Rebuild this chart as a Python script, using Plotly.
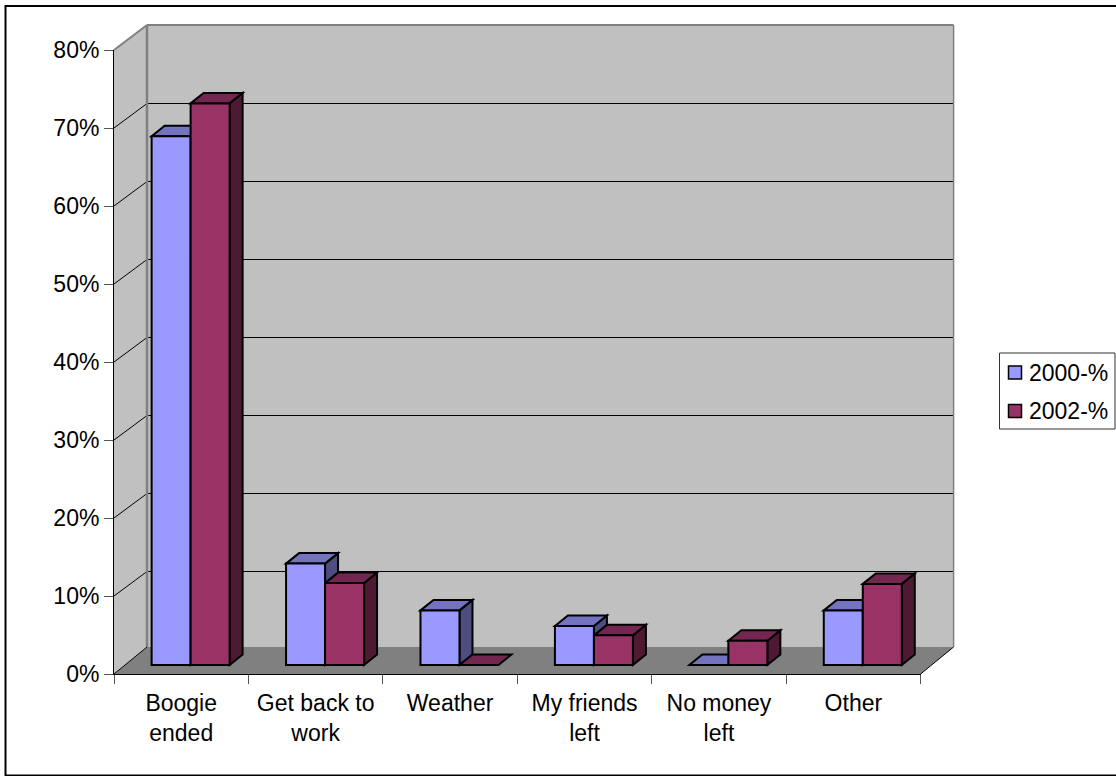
import plotly.graph_objects as go

categories = ["Boogie<br>ended", "Get back to<br>work", "Weather", "My friends<br>left", "No money<br>left", "Other"]
values_2000 = [67.8, 13, 7, 5, 0, 7]
values_2002 = [72, 10.5, 0, 3.8, 3.1, 10.4]
series_names = ["2000-%", "2002-%"]
y_ticks = [0, 10, 20, 30, 40, 50, 60, 70, 80]

W, H = 1116, 776
LEFT, RIGHT, TOP, BOTTOM = 114, 920.6, 50, 674
CAT_PX = (RIGHT - LEFT) / len(categories)
VAL_PX = (BOTTOM - TOP) / 80
WALL_DX, WALL_DY, FLOOR_DY = 33, 25, 27
BAR_DX, BAR_DY = 13, 10.5
BAR_W = 39 / CAT_PX
BAR_BASE = 9 / VAL_PX
OFFSETS = [-29.6 / CAT_PX, 9.4 / CAT_PX]

FILL = ["#9999FF", "#993366"]
TOP_FILL = ["#7373BF", "#732650"]
SIDE_FILL = ["#4D4D80", "#4D1933"]
WALL = "#C0C0C0"
FLOOR = "#808080"
EDGE = "#808080"
FONT = "Liberation Sans"
FS = 23


def px(x):
    return x / W


def py(y):
    return 1 - y / H


def poly(pts):
    return "M" + " L".join(f"{a},{b}" for a, b in pts) + " Z"


def paper_shape(pts, fill=None, color="black", width=1):
    return dict(type="path", layer="below", xref="paper", yref="paper",
                path=poly([(px(a), py(b)) for a, b in pts]),
                fillcolor=fill if fill else "rgba(0,0,0,0)",
                line=dict(color=color, width=width))


def paper_line(x0, y0, x1, y1, color="black", width=1):
    return dict(type="line", layer="below", xref="paper", yref="paper",
                x0=px(x0), y0=py(y0), x1=px(x1), y1=py(y1),
                line=dict(color=color, width=width))


shapes = []
BX0, BX1 = LEFT + WALL_DX, RIGHT + WALL_DX
BY0, BY1 = TOP - WALL_DY, BOTTOM - FLOOR_DY

# Walls and floor
shapes.append(paper_shape([(BX0, BY0), (BX1, BY0), (BX1, BY1), (BX0, BY1)], WALL, WALL, 0))
shapes.append(paper_shape([(LEFT, TOP), (BX0, BY0), (BX0, BY1), (LEFT, BOTTOM)], WALL, WALL, 0))
shapes.append(paper_shape([(LEFT, BOTTOM), (BX0, BY1), (BX1, BY1), (RIGHT, BOTTOM)], FLOOR, FLOOR, 0))

# Gridlines run along the side wall and across the back wall
for t in y_ticks[1:-1]:
    yy = BOTTOM - t * VAL_PX
    shapes.append(paper_line(LEFT, yy, BX0, yy - WALL_DY + 0.5))
    shapes.append(paper_line(BX0, yy - WALL_DY + 0.5, BX1, yy - WALL_DY + 0.5))

shapes.append(paper_line(LEFT, TOP, BX0, BY0, EDGE, 2))
shapes.append(paper_line(BX0, BY0, BX1, BY0, EDGE, 2))
shapes.append(paper_line(BX0, BY0, BX0, BY1, EDGE, 2.5))
shapes.append(paper_line(BX1, BY0, BX1, BY1, EDGE, 1.5))
shapes.append(paper_line(LEFT, BOTTOM, BX0, BY1, "black", 1))
shapes.append(paper_line(RIGHT, BOTTOM, BX1, BY1, "black", 1))

# Outer frame
shapes.append(paper_shape([(5.5, 6), (1119, 6), (1119, 775.5), (5.5, 775.5)], None, "black", 2))

# Legend box and swatches
LEG_ROWS = [372.5, 411]
shapes.append(paper_shape([(999.5, 353), (1115, 353), (1115, 429), (999.5, 429)], "white", "#333333", 1))
annotations = []
for s, name in enumerate(series_names):
    rc = LEG_ROWS[s]
    shapes.append(paper_shape([(1008.5, rc - 6.5), (1021.5, rc - 6.5), (1021.5, rc + 6.5), (1008.5, rc + 6.5)],
                              FILL[s], "black", 1.5))
    annotations.append(dict(text=name, xref="paper", yref="paper", x=px(1027), y=py(rc),
                            xanchor="left", yanchor="middle", showarrow=False,
                            font=dict(family=FONT, size=FS, color="black")))

# Depth faces of each bar, behind the front faces
dx = BAR_DX / CAT_PX
dy = BAR_DY / VAL_PX


def bar_shape(pts, fill):
    return dict(type="path", layer="below", xref="x", yref="y", path=poly(pts),
                fillcolor=fill, line=dict(color="black", width=2))


for i in range(len(categories)):
    for s, vals in enumerate([values_2000, values_2002]):
        x0 = i + OFFSETS[s]
        x1 = x0 + BAR_W
        y0 = BAR_BASE
        y1 = BAR_BASE + vals[i]
        if vals[i] > 0:
            shapes.append(bar_shape([(x1, y0), (x1 + dx, y0 + dy), (x1 + dx, y1 + dy), (x1, y1)], SIDE_FILL[s]))
        shapes.append(bar_shape([(x0, y1), (x0 + dx, y1 + dy), (x1 + dx, y1 + dy), (x1, y1)], TOP_FILL[s]))

fig = go.Figure()
for s, vals in enumerate([values_2000, values_2002]):
    fig.add_trace(go.Bar(
        x=categories, y=vals, base=BAR_BASE, width=BAR_W, offset=OFFSETS[s],
        name=series_names[s], showlegend=False,
        marker=dict(color=FILL[s], line=dict(color="black", width=2)),
    ))

fig.update_layout(
    width=W, height=H, autosize=False,
    margin=dict(l=0, r=0, t=0, b=0, pad=0, autoexpand=False),
    paper_bgcolor="white", plot_bgcolor="rgba(0,0,0,0)",
    barmode="overlay", shapes=shapes, annotations=annotations,
    font=dict(family=FONT, size=FS, color="black"),
    xaxis=dict(
        domain=[px(LEFT), px(RIGHT)], type="category",
        categoryorder="array", categoryarray=categories,
        range=[-0.5, len(categories) - 0.5], tickson="boundaries",
        showgrid=False, zeroline=False, showline=True, linecolor="black", linewidth=1,
        ticks="outside", ticklen=9, tickcolor="#555555", tickwidth=1,
        tickfont=dict(family=FONT, size=FS), tickangle=0, fixedrange=True,
        ticklabelstandoff=8,
    ),
    yaxis=dict(
        domain=[py(BOTTOM), py(TOP)], range=[0, 80], tickvals=y_ticks,
        ticktext=[f"{t}%" for t in y_ticks],
        showgrid=False, zeroline=False, showline=True, linecolor="black", linewidth=1,
        ticks="outside", ticklen=9, tickcolor="#555555", tickwidth=1,
        tickfont=dict(family=FONT, size=FS), fixedrange=True,
    ),
)

fig.write_html("out.html", config=dict(displayModeBar=False),
               post_script="document.body.style.margin='0';document.body.style.overflow='hidden';")
